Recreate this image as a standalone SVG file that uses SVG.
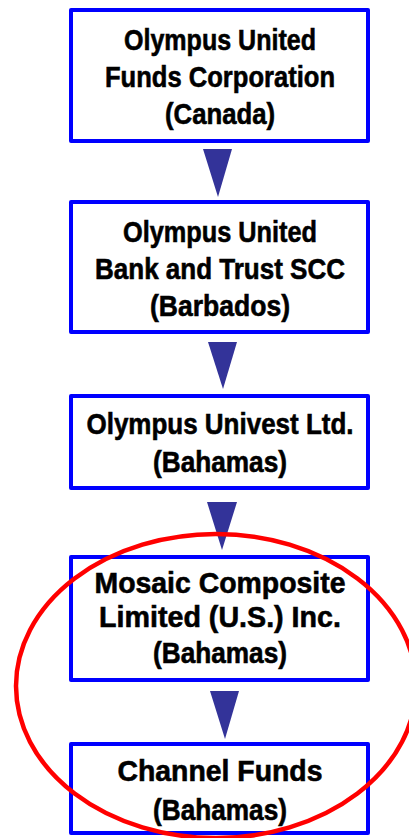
<svg xmlns="http://www.w3.org/2000/svg" width="409" height="838" viewBox="0 0 409 838">
  <style>
    .box { fill: #ffffff; stroke: #0000ff; stroke-width: 4; stroke-linejoin: round; }
    .lbl { font-family: "Liberation Sans", Arial, sans-serif; font-weight: bold; font-size: 30px; fill: #000000; stroke: #000000; stroke-width: 0.6; text-anchor: middle; }
    .arr { fill: #333399; stroke: none; }
    .ring { fill: none; stroke: #ff0000; stroke-width: 4.5; }
  </style>
  <rect x="0" y="0" width="409" height="838" fill="#ffffff"/>

  <g id="connectors">
    <polygon class="arr" points="203,149 232,149 218,197"/>
    <polygon class="arr" points="208,342 237,342 223,389"/>
    <polygon class="arr" points="207,502 237,502 222,550"/>
    <polygon class="arr" points="210,691 239,691 225,739"/>
  </g>

  <g id="node-olympus-united-funds">
    <rect class="box" x="71" y="10" width="297" height="131"/>
    <text class="lbl" x="220" y="50" textLength="192" lengthAdjust="spacingAndGlyphs">Olympus United</text>
    <text class="lbl" x="220" y="87" textLength="230" lengthAdjust="spacingAndGlyphs">Funds Corporation</text>
    <text class="lbl" x="220" y="124" textLength="110" lengthAdjust="spacingAndGlyphs">(Canada)</text>
  </g>

  <g id="node-olympus-bank-trust">
    <rect class="box" x="71" y="202" width="297" height="130"/>
    <text class="lbl" x="220" y="242" textLength="194" lengthAdjust="spacingAndGlyphs">Olympus United</text>
    <text class="lbl" x="220" y="279" textLength="250" lengthAdjust="spacingAndGlyphs">Bank and Trust SCC</text>
    <text class="lbl" x="220" y="316" textLength="140" lengthAdjust="spacingAndGlyphs">(Barbados)</text>
  </g>

  <g id="node-olympus-univest">
    <rect class="box" x="71" y="396" width="297" height="92"/>
    <text class="lbl" x="220" y="434" textLength="267" lengthAdjust="spacingAndGlyphs">Olympus Univest Ltd.</text>
    <text class="lbl" x="220" y="472" textLength="134" lengthAdjust="spacingAndGlyphs">(Bahamas)</text>
  </g>

  <g id="node-mosaic-composite">
    <rect class="box" x="71" y="557" width="297" height="123"/>
    <text class="lbl" x="220" y="593" textLength="251" lengthAdjust="spacingAndGlyphs">Mosaic Composite</text>
    <text class="lbl" x="220" y="627" textLength="242" lengthAdjust="spacingAndGlyphs">Limited (U.S.) Inc.</text>
    <text class="lbl" x="220" y="663" textLength="134" lengthAdjust="spacingAndGlyphs">(Bahamas)</text>
  </g>

  <g id="node-channel-funds">
    <rect class="box" x="71" y="744" width="297" height="89"/>
    <text class="lbl" x="220" y="781" textLength="205" lengthAdjust="spacingAndGlyphs">Channel Funds</text>
    <text class="lbl" x="220" y="820" textLength="134" lengthAdjust="spacingAndGlyphs">(Bahamas)</text>
  </g>

  <ellipse class="ring" cx="216" cy="686" rx="200" ry="152"/>
</svg>
